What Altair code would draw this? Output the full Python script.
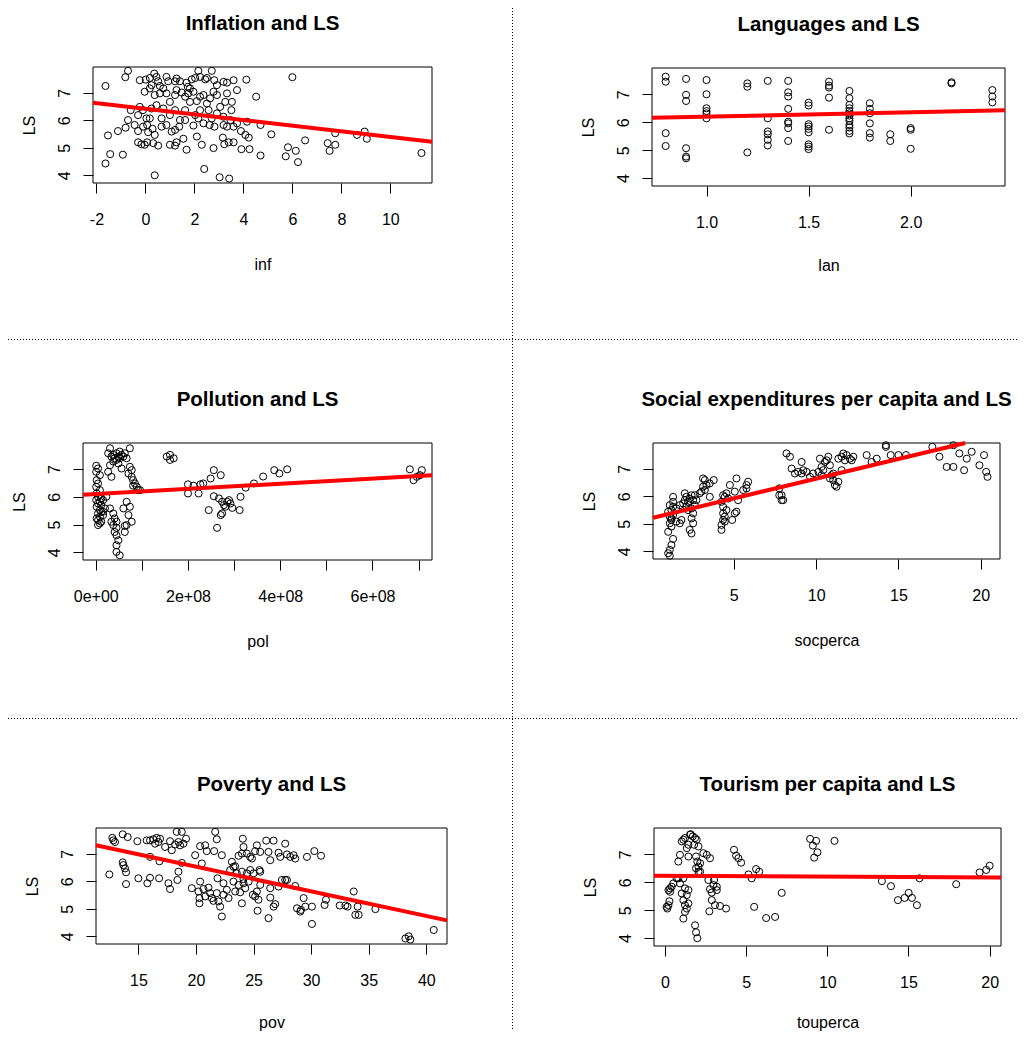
import altair as alt
import pandas as pd

FONT = "Liberation Sans"
LS_DOMAIN = [3.72, 7.94]
LS_TICKS = [4, 5, 6, 7]

# ---------------- Inflation ----------------
inf_x = [-0.71, -0.82, -0.23, 0.01, 0.18, 0.36, 0.45, 0.52, 0.25, 0.59, 0.86, 0.93, 1.21, 1.27, 1.41, 1.68, 1.73,
         1.89, 2.03, 2.16, 2.23, 2.44, 2.51, 2.71, 2.81, 2.92, 3.19, 3.33, 3.60, 3.74, 4.12, 6.00, -1.63,
         -0.03, 0.18, 0.38, 0.59, 0.73, 0.86, 1.00, 1.21, 1.27, 1.48, 1.62, 1.75, 1.82, 1.96, 2.10, 2.23, 2.37,
         2.51, 2.64, 2.78, 2.92, 3.05, 3.26, 3.33, 3.53, 3.51, 4.52, -0.23, -0.10, 0.25, 0.04, 0.18, 0.45, 0.66,
         0.73, 1.00, 1.21, 1.41, 1.62, 1.82, 2.03, 2.16, 2.23, 2.58, 2.71, 2.92, 3.19, 3.47, 3.74, 4.15, 4.70,
         -0.60, -0.71, -0.81, -0.44, -0.30, -0.30, -0.10, 0.07, 0.11, 0.29, 0.38, 0.66, 0.86, 1.07, 1.21, 1.38,
         1.62, 1.96, 2.10, 2.37, 2.62, 2.82, 3.19, 3.33, 3.60, 3.90, 4.08, 4.22, 5.14,
         -1.53, -1.12, -0.30, -0.16, -0.03, 0.07, 0.32, 0.52, 1.00, 1.21, 1.27, 1.55, 1.68, 2.30, 2.78, 3.16,
         3.22, 3.40, 3.60, 3.92, 4.25, 4.70, 5.73, 5.82, 6.14, 6.23, 6.52, 7.44, 7.52, 7.75, 7.75, 8.64, 8.95,
         9.04, 11.27, -1.44, -0.92, -1.63, 0.38, 2.40, 3.03, 3.42]
inf_y = [7.80, 7.57, 7.46, 7.48, 7.54, 7.70, 7.58, 7.42, 7.28, 7.25, 7.58, 7.42, 7.42, 7.52, 7.42, 7.37, 7.22,
         7.49, 7.54, 7.80, 7.58, 7.49, 7.54, 7.80, 7.46, 7.28, 7.40, 7.37, 7.46, 7.10, 7.48, 7.57, 7.25,
         7.04, 7.16, 6.92, 6.98, 7.16, 6.98, 6.67, 6.92, 7.10, 7.01, 6.86, 6.98, 7.16, 7.04, 6.70, 6.86, 6.92,
         6.61, 6.80, 7.04, 6.92, 6.49, 6.67, 6.98, 6.67, 6.37, 6.86, 6.49, 6.37, 6.43, 6.07, 6.07, 6.55, 6.07,
         6.43, 6.19, 6.37, 6.01, 6.37, 6.67, 6.19, 6.07, 6.37, 6.37, 6.07, 6.25, 6.13, 6.01, 5.89, 5.95, 5.83,
         6.37, 6.01, 5.73, 5.83, 6.19, 5.61, 5.77, 5.83, 5.57, 5.69, 5.47, 5.77, 5.83, 5.59, 5.65, 5.77,
         6.01, 5.81, 5.41, 5.89, 5.83, 5.77, 5.83, 5.77, 5.77, 5.61, 5.47, 5.37, 5.49,
         5.45, 5.61, 5.20, 5.13, 5.11, 5.20, 5.17, 5.08, 5.11, 5.08, 5.20, 5.33, 4.93, 5.11, 4.99, 5.37,
         5.13, 5.20, 5.20, 4.95, 4.95, 4.72, 4.69, 5.02, 4.89, 4.48, 5.27, 5.17, 4.89, 5.11, 5.53, 5.47, 5.59,
         5.33, 4.81, 4.77, 4.75, 4.43, 4.00, 4.23, 3.93, 3.88]
inf_line_x = [-2.14, 11.70]
inf_line_y = [6.64, 5.22]
inf_ticks = [-2, 0, 2, 4, 6, 8, 10]

# ---------------- Languages ----------------
lan_x = [0.8] * 4 + [0.9] * 6 + [1.0] * 6 + [1.2] * 3 + [1.3] * 6 + [1.4] * 8 + [1.5] * 9 + [1.6] * 5 + \
        [1.7] * 13 + [1.8] * 6 + [1.9] * 2 + [2.0] * 3 + [2.2] * 2 + [2.4] * 3
lan_y = [7.63, 7.45, 5.61, 5.15,
         7.55, 6.98, 6.76, 5.07, 4.77, 4.71,
         7.51, 7.00, 6.50, 6.40, 6.32, 6.14,
         7.39, 7.27, 4.92,
         7.48, 6.14, 5.67, 5.57, 5.37, 5.17,
         7.48, 7.07, 6.92, 6.48, 6.02, 5.96, 5.79, 5.33,
         6.70, 6.60, 5.93, 5.85, 5.76, 5.64, 5.21, 5.13, 5.04,
         7.45, 7.31, 7.24, 6.88, 5.73,
         7.12, 6.86, 6.62, 6.50, 6.40, 6.32, 6.24, 6.14, 6.05, 5.90, 5.81, 5.69, 5.60,
         6.68, 6.48, 6.32, 5.96, 5.61, 5.45,
         5.57, 5.33,
         5.79, 5.73, 5.05,
         7.43, 7.39,
         7.15, 6.92, 6.71]
lan_line_x = [0.733, 2.462]
lan_line_y = [6.16, 6.43]
lan_ticks = [1.0, 1.5, 2.0]

# ---------------- Pollution ----------------
pol_x = [0.01e8, 0.05e8, 0.01e8, 0.09e8, 0.02e8, 0.05e8, 0.01e8, 0.09e8, 0.02e8, 0.05e8, 0.12e8, 0.01e8,
         0.09e8, 0.05e8, 0.12e8, 0.02e8, 0.09e8, 0.12e8, 0.05e8, 0.16e8, 0.09e8, 0.02e8, 0.05e8, 0.12e8,
         0.09e8, 0.05e8, 0.16e8, 0.20e8, 0.16e8, 0.23e8,
         0.31e8, 0.27e8, 0.34e8, 0.38e8, 0.41e8, 0.45e8, 0.49e8, 0.52e8, 0.56e8, 0.45e8, 0.52e8, 0.60e8,
         0.63e8, 0.38e8, 0.49e8, 0.67e8, 0.74e8, 0.31e8, 0.56e8, 0.27e8, 0.34e8,
         0.38e8, 0.41e8, 0.45e8, 0.38e8, 0.45e8, 0.41e8, 0.45e8, 0.49e8, 0.45e8, 0.45e8, 0.52e8, 0.34e8, 0.31e8,
         0.74e8, 0.78e8, 0.71e8, 0.78e8, 0.81e8, 0.85e8, 0.89e8, 0.92e8, 0.96e8, 0.81e8,
         0.67e8, 0.74e8, 0.71e8, 0.78e8, 0.67e8, 0.63e8, 0.60e8, 0.63e8,
         1.54e8, 1.61e8, 1.69e8, 1.61e8,
         2.00e8, 2.00e8, 2.12e8, 2.23e8, 2.27e8, 2.33e8, 2.49e8, 2.56e8, 2.71e8, 2.45e8, 2.56e8, 2.63e8, 2.67e8,
         2.71e8, 2.74e8, 2.78e8, 2.81e8, 2.85e8, 2.89e8, 2.92e8, 2.96e8, 2.74e8, 3.14e8, 3.12e8, 3.25e8, 3.43e8,
         3.63e8, 3.87e8, 3.98e8, 4.15e8, 6.81e8, 6.89e8, 6.96e8, 7.07e8, 7.03e8]
pol_y = [7.12, 7.02, 6.90, 6.78, 6.60, 6.48, 6.36, 6.24, 6.12, 6.00, 5.94, 5.88,
         5.82, 5.76, 5.70, 5.64, 5.52, 5.46, 5.40, 5.34, 5.28, 5.22, 5.16, 5.10,
         5.04, 4.98, 5.46, 5.58, 5.88, 6.00,
         7.75, 7.57, 7.45, 7.51, 7.39, 7.57, 7.45, 7.63, 7.51, 7.33, 7.39, 7.45,
         7.57, 7.27, 7.20, 7.39, 7.75, 7.14, 7.02, 6.90, 6.72,
         5.40, 5.22, 5.10, 4.98, 4.88, 4.73, 4.61, 4.43, 4.25, 4.01, 3.89, 5.10, 5.58,
         7.08, 6.96, 6.84, 6.72, 6.60, 6.48, 6.36, 6.24, 6.24, 6.40,
         5.82, 5.64, 5.34, 5.10, 4.98, 4.73, 5.58, 4.95,
         7.45, 7.51, 7.39, 7.33,
         6.45, 6.12, 6.40, 6.12, 6.45, 6.48, 6.66, 6.96, 6.78, 5.52, 6.02, 4.88, 5.94,
         5.34, 5.82, 5.70, 5.64, 5.82, 5.88, 5.76, 5.60, 5.40, 6.00, 5.52, 6.33, 6.48,
         6.73, 6.96, 6.84, 6.99, 6.99, 6.60, 6.72, 6.96, 6.78]
pol_line_x = [-0.276e8, 7.29e8]
pol_line_y = [6.07, 6.78]
pol_ticks = [0, 1e8, 2e8, 3e8, 4e8, 5e8, 6e8, 7e8]

# ---------------- Social expenditures ----------------
soc_x = [1.01, 1.11, 1.11, 1.21, 1.31, 1.01, 1.21, 1.11, 1.21, 1.11, 1.31, 1.01, 1.21, 1.31, 1.11, 1.31,
         1.21, 1.51, 1.72, 1.82, 1.92, 1.72, 2.02, 2.12, 2.02, 2.22, 2.32, 2.12, 2.43, 2.53, 2.22, 2.43,
         2.53, 2.43, 2.53, 2.32, 2.43, 2.63, 2.73, 2.63, 2.93, 3.03, 3.13, 3.13, 3.24, 3.34, 3.24, 3.54,
         3.78, 3.54, 1.51, 1.31,
         4.25, 4.25, 4.35, 4.35, 4.45, 4.35, 4.25, 4.35, 4.45, 4.55, 4.45, 4.55, 4.66, 4.76, 4.90, 5.06,
         5.16, 5.26, 5.06, 5.16, 5.57, 5.77, 5.87, 5.77,
         7.76, 7.76, 7.90, 8.00, 7.90, 8.20, 8.41, 8.51, 8.71, 8.91, 9.12, 9.22, 9.42, 9.12, 9.63, 9.82,
         10.14, 10.23, 10.33, 10.43, 10.53, 10.64, 10.74, 10.84, 10.94, 11.04, 11.14, 11.24, 11.35, 11.55,
         11.65, 11.75, 11.85, 12.05, 12.16, 12.26, 11.35, 11.04, 10.33, 10.84, 11.55,
         13.07, 13.37, 13.68, 14.24, 14.24, 14.53, 15.00, 15.46, 17.06, 17.49, 17.93, 18.34, 18.70, 18.99,
         19.15, 19.45, 19.92, 20.20, 20.33, 20.41, 18.34]
soc_y = [3.93, 3.84, 4.05, 4.23, 4.45, 4.71, 4.90, 5.02, 5.14, 5.26, 5.32, 5.44, 5.50, 5.62, 5.68, 5.80,
         5.20, 5.08, 5.02, 5.14, 5.74, 5.68, 5.86, 5.62, 6.11, 5.80, 5.92, 5.98, 6.04, 5.86, 5.50, 5.56,
         5.38, 5.20, 5.02, 4.78, 4.65, 5.68, 5.86, 6.04, 6.11, 6.17, 6.35, 6.65, 6.59, 6.41, 6.23, 6.47,
         6.59, 5.98, 5.56, 5.98,
         4.96, 4.78, 5.14, 5.38, 5.26, 5.62, 5.80, 6.04, 5.98, 6.11, 5.08, 5.50, 5.92, 6.41, 5.14, 5.38,
         5.44, 5.86, 6.17, 6.65, 6.23, 6.41, 6.53, 6.29,
         6.29, 6.04, 5.86, 5.86, 6.04, 7.56, 7.44, 7.01, 6.83, 6.89, 7.25, 6.95, 6.89, 6.83, 6.71, 6.83,
         6.89, 7.37, 7.07, 6.95, 7.25, 7.31, 7.44, 6.65, 6.77, 6.59, 6.41, 6.35, 7.37, 7.44,
         7.56, 7.31, 7.50, 7.37, 7.31, 7.44, 6.53, 6.83, 6.77, 7.13, 6.95,
         7.50, 7.25, 7.37, 7.80, 7.86, 7.50, 7.50, 7.50, 7.80, 7.44, 7.07, 7.07, 7.56, 6.95,
         7.37, 7.62, 7.13, 7.50, 6.89, 6.71, 7.86]
soc_line_x = [0.09, 19.05]
soc_line_y = [5.22, 7.94]
soc_ticks = [5, 10, 15, 20]

# ---------------- Poverty ----------------
pov_x = [12.48, 12.74, 12.83, 12.97, 13.64, 14.07, 14.91, 15.72, 16.01, 16.30, 16.59, 16.74, 16.88, 16.45,
         17.32, 17.75, 17.90, 18.19, 18.33, 18.77, 19.14, 18.62, 18.48, 18.91, 16.01, 16.83, 13.64, 13.70,
         13.84, 13.93, 13.93, 15.00, 15.78, 16.01, 16.80, 17.61, 17.75, 18.39, 18.48, 18.77, 19.64, 19.93,
         20.36, 20.51, 20.80, 20.94, 21.67, 21.81, 21.58, 22.25, 21.87, 22.39, 22.68, 23.12, 22.97, 23.26,
         23.70, 24.07, 24.13, 23.99, 24.42, 24.86, 24.71, 25.14, 25.29, 25.58, 26.10, 26.30, 26.45, 26.74,
         27.17, 27.32, 27.75, 27.90, 28.19, 28.48, 28.62, 29.64, 30.28, 30.86, 20.36, 20.22, 20.30, 20.30,
         20.65, 20.80, 21.09, 21.23, 21.38, 21.52, 21.96, 22.10, 22.25, 21.81, 22.39, 22.83, 23.26, 23.41,
         23.70, 23.84, 23.99, 24.13, 24.28, 24.42, 23.99, 24.13, 24.57, 24.71, 24.94, 25.14, 25.29, 25.43,
         25.35, 25.58, 25.52, 26.30, 26.45, 26.45, 26.74, 26.88, 27.17, 27.46, 27.75, 27.90, 28.62, 28.77,
         29.06, 29.12, 29.35, 29.49, 30.07, 30.07, 31.17, 31.29, 32.48, 32.97, 33.17, 33.70, 33.84, 34.04,
         34.13, 35.58, 38.19, 38.48, 38.62, 40.65, 25.58, 23.41, 25.00, 23.55]
pov_y = [6.25, 7.58, 7.49, 7.43, 7.71, 7.61, 7.46, 7.49, 7.49, 7.53, 7.58, 7.43, 7.55, 7.37,
         7.25, 7.46, 7.13, 7.34, 7.80, 7.80, 7.55, 7.31, 7.43, 7.37, 6.89, 6.73, 6.69, 6.59,
         6.47, 6.33, 5.90, 6.11, 5.93, 6.13, 6.11, 5.93, 5.72, 6.05, 6.35, 6.67, 5.75, 6.95,
         7.28, 6.65, 7.31, 7.10, 7.80, 7.53, 7.10, 6.95, 6.11, 5.93, 5.69, 6.71, 6.41, 6.53,
         6.93, 7.55, 7.25, 7.01, 7.01, 6.83, 6.89, 7.10, 7.31, 7.07, 7.48, 7.07, 6.77, 7.48,
         7.04, 6.89, 7.37, 6.98, 6.89, 6.95, 6.83, 6.89, 7.10, 6.93, 5.99, 5.63, 5.39, 5.20,
         5.72, 5.45, 5.77, 5.57, 5.39, 5.29, 5.27, 5.08, 4.72, 5.57, 5.51, 5.39, 5.99, 5.63,
         5.87, 5.60, 5.20, 6.08, 5.75, 6.29, 6.35, 5.93, 5.99, 6.41, 5.51, 5.45, 5.63, 5.33,
         4.93, 5.87, 6.41, 4.66, 5.41, 5.75, 5.08, 5.17, 5.81, 6.05, 6.05, 6.05, 5.83, 5.02,
         4.90, 4.96, 5.39, 5.08, 5.08, 4.45, 5.14, 5.33, 5.12, 5.12, 5.08, 5.63, 4.78, 5.08,
         4.78, 4.99, 3.92, 4.00, 3.88, 4.23, 6.35, 6.55, 6.29, 6.29]
pov_line_x = [11.32, 41.8]
pov_line_y = [7.31, 4.58]
pov_ticks = [15, 20, 25, 30, 35, 40]

# ---------------- Tourism ----------------
tou_x = [0.10, 0.14, 0.21, 0.27, 0.31, 0.21, 0.41, 0.51, 0.31, 0.72, 0.82, 0.92, 1.03, 1.13, 1.23, 1.34,
         1.44, 1.54, 1.44, 0.92, 1.03, 1.13, 1.23, 1.23, 1.13, 1.34, 1.44, 1.34, 1.23, 0.82, 1.13, 1.44,
         1.58, 1.71, 1.85, 1.95, 1.79, 2.06, 1.91, 1.99, 2.06, 1.91, 2.16, 1.85, 1.91, 1.99, 2.16, 2.06,
         2.36, 2.57, 2.77, 2.67, 2.77, 2.88, 2.88, 2.73, 2.98, 3.19, 3.08, 3.02, 3.19, 3.39, 3.76,
         4.25, 4.38, 4.52, 4.69, 5.14, 5.34, 5.49, 5.61, 5.80, 6.23, 6.78, 7.19, 8.94, 9.11, 9.19, 9.31,
         9.39, 10.44, 13.36, 13.92, 14.35, 14.76, 15.01, 15.21, 15.52, 15.68, 17.94, 19.38, 19.79, 20.00]
tou_y = [5.12, 5.06, 5.18, 5.32, 5.66, 5.72, 5.84, 5.96, 5.78, 6.14, 6.74, 6.98, 7.46, 7.52, 7.58, 7.22,
         7.34, 7.70, 6.92, 5.96, 5.60, 5.36, 5.18, 4.94, 4.70, 5.06, 5.24, 5.54, 5.78, 6.14, 6.14, 5.72,
         7.72, 7.64, 7.58, 7.52, 7.34, 7.28, 6.92, 6.74, 6.56, 6.50, 6.68, 4.46, 4.21, 4.00, 6.38, 6.38,
         7.04, 6.98, 6.86, 6.08, 5.75, 5.63, 5.36, 4.96, 5.90, 5.72, 5.18, 6.08, 5.84, 5.15, 5.06,
         7.16, 6.95, 6.86, 6.70, 6.28, 6.14, 5.12, 6.47, 6.38, 4.72, 4.76, 5.62, 7.55, 7.31, 6.88, 7.48,
         7.07, 7.48, 6.04, 5.86, 5.36, 5.44, 5.62, 5.44, 5.18, 6.14, 5.93, 6.35, 6.44, 6.59]
tou_line_x = [-0.68, 20.70]
tou_line_y = [6.23, 6.17]
tou_ticks = [0, 5, 10, 15, 20]

# ---------------- layout (page pixels) ----------------
W, H = 1011, 1023
M = 8

int_expr = "'' + datum.value"
panels_spec = [
    dict(title="Inflation and LS", xlab="inf", x=inf_x, y=inf_y, lx=inf_line_x, ly=inf_line_y,
         ticks=inf_ticks, expr=int_expr, xdom=[-2.14, 11.70], box=[93, 432, 67, 183], ty=86),
    dict(title="Languages and LS", xlab="lan", x=lan_x, y=lan_y, lx=lan_line_x, ly=lan_line_y,
         ticks=lan_ticks, expr="format(datum.value, '.1f')", xdom=[0.733, 2.462], box=[652, 1005, 68, 186], ty=84),
    dict(title="Pollution and LS", xlab="pol", x=pol_x, y=pol_y, lx=pol_line_x, ly=pol_line_y,
         ticks=pol_ticks,
         expr="datum.value % 200000000 == 0 ? (datum.value == 0 ? '0e+00' : format(datum.value / 100000000, 'd') + 'e+08') : ''",
         xdom=[-0.276e8, 7.29e8], box=[83, 432, 443, 560], ty=86),
    dict(title="Social expenditures per capita and LS", xlab="socperca", x=soc_x, y=soc_y, lx=soc_line_x,
         ly=soc_line_y, ticks=soc_ticks, expr=int_expr, xdom=[0.09, 21.17], box=[653, 1000, 443, 559], ty=86),
    dict(title="Poverty and LS", xlab="pov", x=pov_x, y=pov_y, lx=pov_line_x, ly=pov_line_y,
         ticks=pov_ticks, expr=int_expr, xdom=[11.32, 41.8], box=[96, 447, 828, 944], ty=83),
    dict(title="Tourism per capita and LS", xlab="touperca", x=tou_x, y=tou_y, lx=tou_line_x, ly=tou_line_y,
         ticks=tou_ticks, expr=int_expr, xdom=[-0.68, 20.70], box=[654, 1001, 828, 946], ty=81),
]


def make_panel(s):
    L, R, T, B = [v - M for v in s["box"]]
    xs = alt.Scale(domain=s["xdom"], range=[L, R], nice=False, zero=False)
    ys = alt.Scale(domain=LS_DOMAIN, range=[B, T], nice=False, zero=False)
    xaxis = alt.Axis(orient="bottom", offset=B - H, values=s["ticks"], labelExpr=s["expr"], title=s["xlab"],
                     domain=False, grid=False, ticks=True, tickSize=10, tickColor="black", tickWidth=1,
                     labelFont=FONT, labelFontSize=16, labelColor="black", labelAngle=0,
                     labelBaseline="alphabetic", labelAlign="center", labelPadding=31,
                     labelOverlap=False, labelFlush=False,
                     titleFont=FONT, titleFontSize=16, titleFontWeight="normal", titleColor="black",
                     titleBaseline="alphabetic", titleY=s["ty"])
    yaxis = alt.Axis(orient="left", offset=-L, values=LS_TICKS, format="d", title="LS",
                     domain=False, grid=False, ticks=True, tickSize=10, tickColor="black", tickWidth=1,
                     labelFont=FONT, labelFontSize=16, labelColor="black", labelAngle=270,
                     labelAlign="center", labelBaseline="middle", labelPadding=19,
                     labelOverlap=False, labelFlush=False,
                     titleFont=FONT, titleFontSize=16, titleFontWeight="normal", titleColor="black",
                     titleAngle=270, titleAlign="center", titleBaseline="middle", titleX=-64)
    pts = alt.Chart(pd.DataFrame({"x": s["x"], "y": s["y"]})).mark_point(
        shape="circle", filled=False, size=50, color="black", strokeWidth=1, opacity=1
    ).encode(
        x=alt.X("x:Q", scale=xs, axis=xaxis),
        y=alt.Y("y:Q", scale=ys, axis=yaxis),
    )
    box = alt.Chart(pd.DataFrame({"k": [0]})).mark_rect(
        fill="transparent", stroke="black", strokeWidth=1
    ).encode(
        x=alt.XDatum(s["xdom"][0], type="quantitative", scale=xs, axis=xaxis),
        x2=alt.X2Datum(s["xdom"][1]),
        y=alt.YDatum(LS_DOMAIN[0], type="quantitative", scale=ys, axis=yaxis),
        y2=alt.Y2Datum(LS_DOMAIN[1]),
    )
    line = alt.Chart(pd.DataFrame({"x": s["lx"], "y": s["ly"]})).mark_line(
        color="red", strokeWidth=4
    ).encode(
        x=alt.X("x:Q", scale=xs, axis=xaxis),
        y=alt.Y("y:Q", scale=ys, axis=yaxis),
    )
    title = alt.Chart(pd.DataFrame({"t": [s["title"]]})).mark_text(
        font=FONT, fontSize=20.5, fontWeight="bold", color="black", align="center", baseline="alphabetic"
    ).encode(
        x=alt.value((L + R) / 2), y=alt.value(T - 37), text="t:N"
    )
    return alt.layer(pts, box, line), title


layers = []
titles = []
for s in panels_spec:
    p, t = make_panel(s)
    layers.append(p)
    titles.append(t)

sep_data = pd.DataFrame({"k": [0]})
dot = dict(color="black", strokeWidth=1, strokeDash=[1, 2])
sep_h1 = alt.Chart(sep_data).mark_rule(**dot).encode(x=alt.value(0), x2=alt.value(W), y=alt.value(339.5 - M))
sep_h2 = alt.Chart(sep_data).mark_rule(**dot).encode(x=alt.value(0), x2=alt.value(W), y=alt.value(718.5 - M))
sep_v = alt.Chart(sep_data).mark_rule(**dot).encode(x=alt.value(512.5 - M), y=alt.value(0), y2=alt.value(H))

chart = alt.layer(*layers, *titles, sep_h1, sep_h2, sep_v).resolve_scale(
    x="independent", y="independent"
).resolve_axis(
    x="independent", y="independent"
).properties(
    width=W, height=H, padding=0, autosize=alt.AutoSizeParams(type="none"), background="white"
).configure_view(stroke=None)

chart.save("out.html", embed_options={"renderer": "svg", "actions": False})
